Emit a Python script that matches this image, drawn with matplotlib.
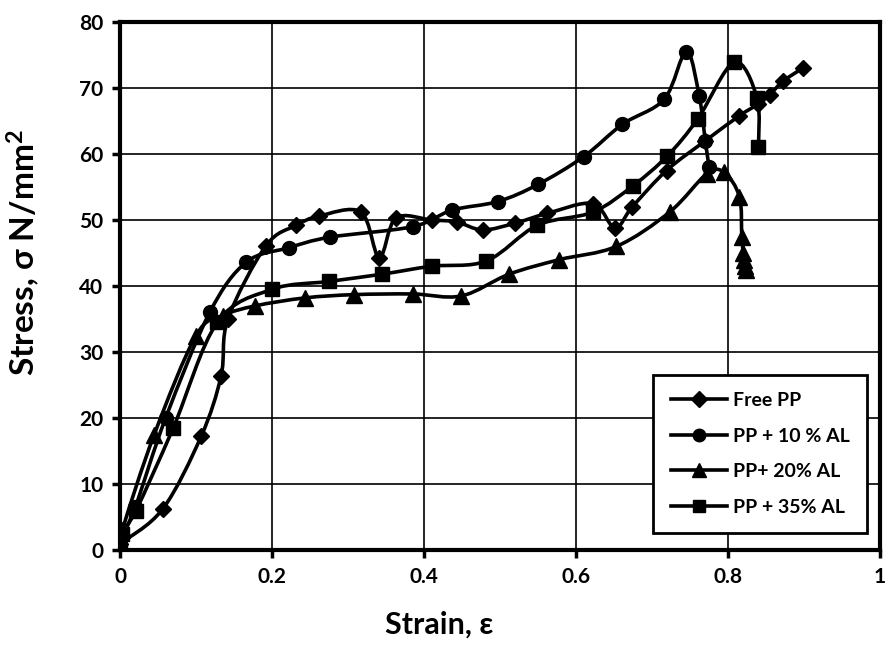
import matplotlib
matplotlib.use("Agg")
import matplotlib.pyplot as plt
from matplotlib.ticker import FuncFormatter
from matplotlib.path import Path
from matplotlib.patches import PathPatch
from matplotlib.lines import Line2D

free_x = [0.0, 0.056, 0.107, 0.133, 0.142, 0.192, 0.232, 0.262, 0.317, 0.341, 0.363,
          0.41, 0.443, 0.477, 0.519, 0.562, 0.622, 0.651, 0.674, 0.719, 0.77, 0.815,
          0.84, 0.855, 0.872, 0.898]
free_y = [1.0, 6.2, 17.3, 26.4, 35.0, 46.1, 49.2, 50.6, 51.2, 44.3, 50.3,
          50.0, 49.7, 48.5, 49.5, 51.0, 52.5, 48.8, 52.0, 57.5, 62.0, 65.8,
          67.6, 69.0, 71.0, 73.0]

al10_x = [0.0, 0.02, 0.06, 0.118, 0.166, 0.222, 0.276, 0.385, 0.437, 0.497, 0.55,
          0.61, 0.661, 0.716, 0.745, 0.762, 0.77, 0.775]
al10_y = [1.5, 6.5, 20.0, 36.0, 43.6, 45.8, 47.4, 49.0, 51.5, 52.8, 55.4,
          59.6, 64.5, 68.3, 75.5, 68.8, 62.0, 58.0]

al20_x = [0.0, 0.003, 0.045, 0.1, 0.135, 0.178, 0.243, 0.308, 0.385, 0.449, 0.512,
          0.578, 0.653, 0.723, 0.772, 0.795, 0.815, 0.818, 0.82, 0.821, 0.822, 0.823]
al20_y = [0.0, 3.0, 17.5, 32.5, 35.5, 37.0, 38.2, 38.7, 38.8, 38.5, 41.8,
          44.0, 46.0, 51.2, 57.0, 57.2, 53.5, 47.5, 45.0, 44.0, 43.0, 42.5]

al35_x = [0.0, 0.002, 0.021, 0.07, 0.128, 0.2, 0.275, 0.345, 0.41, 0.482, 0.549,
          0.622, 0.675, 0.72, 0.76, 0.808, 0.838, 0.84]
al35_y = [0.0, 2.5, 6.0, 18.5, 34.5, 39.5, 40.7, 41.8, 43.0, 43.8, 49.2,
          51.2, 55.2, 59.7, 65.3, 73.9, 68.5, 61.0]

labels = ["Free PP", "PP + 10 % AL", "PP+ 20% AL", "PP + 35% AL"]
x_ticks = [0, 0.2, 0.4, 0.6, 0.8, 1.0]
y_ticks = [0, 10, 20, 30, 40, 50, 60, 70, 80]

plt.rcParams['font.family'] = ['Lato', 'DejaVu Sans']
plt.rcParams['mathtext.fontset'] = 'custom'
plt.rcParams['mathtext.bf'] = 'Lato:bold'
plt.rcParams['mathtext.rm'] = 'Lato'

fig = plt.figure(figsize=(8.89, 6.66), dpi=100)
ax = fig.add_axes([0.135, 0.174, 0.855, 0.793])
ax.set_xlim(0, 1)
ax.set_ylim(0, 80)

lw = 2.6


def smooth_path(xs, ys):
    # Excel-like smoothed line: cubic Bezier segments through the data points
    pts = list(zip(xs, ys))
    n = len(pts)
    verts = [pts[0]]
    codes = [Path.MOVETO]
    for i in range(n - 1):
        p0 = pts[i - 1] if i > 0 else pts[i]
        p1 = pts[i]
        p2 = pts[i + 1]
        p3 = pts[i + 2] if i + 2 < n else pts[i + 1]
        c1 = (p1[0] + (p2[0] - p0[0]) / 6.0, p1[1] + (p2[1] - p0[1]) / 6.0)
        c2 = (p2[0] - (p3[0] - p1[0]) / 6.0, p2[1] - (p3[1] - p1[1]) / 6.0)
        verts += [c1, c2, p2]
        codes += [Path.CURVE4] * 3
    return Path(verts, codes)


series = [(free_x, free_y, 'D', 8.5), (al10_x, al10_y, 'o', 10),
          (al20_x, al20_y, '^', 11), (al35_x, al35_y, 's', 10)]
handles = []
for (xs, ys, m, ms), lab in zip(series, labels):
    patch = PathPatch(smooth_path(xs, ys), fill=False, edgecolor='black', lw=lw,
                      joinstyle='round', capstyle='round', zorder=3)
    ax.add_patch(patch)
    ax.plot(xs, ys, ls='none', marker=m, ms=ms, color='black', zorder=4)
    handles.append(Line2D([], [], color='black', lw=lw, marker=m, ms=ms * 0.9, label=lab))

ax.set_xticks(x_ticks)
ax.set_yticks(y_ticks)
ax.xaxis.set_major_formatter(FuncFormatter(lambda v, p: "0" if v == 0 else ("1" if v == 1 else f"{v:.1f}")))
ax.grid(True, color='black', lw=1.2, zorder=0)
ax.set_axisbelow(True)
for s in ax.spines.values():
    s.set_linewidth(3)
ax.tick_params(axis='both', direction='out', length=6, width=2.5, labelsize=15, pad=6)
for t in ax.get_xticklabels() + ax.get_yticklabels():
    t.set_fontweight('bold')

ax.set_xlabel("Strain, ε", fontsize=22, fontweight='bold')
ax.xaxis.set_label_coords(0.42, -0.114)
ax.set_ylabel("Stress, σ N/mm$\\mathbf{^2}$", fontsize=24, fontweight='bold')
ax.yaxis.set_label_coords(-0.103, 0.564)

leg = ax.legend(handles=handles, loc='lower right', bbox_to_anchor=(0.983, 0.032),
                borderaxespad=0, fancybox=False, edgecolor='black', framealpha=1,
                handlelength=2.9, borderpad=0.9, labelspacing=0.95, handletextpad=0.3,
                prop={'weight': 'bold', 'size': 14})
leg.get_frame().set_linewidth(2)

fig.savefig("out.png", dpi=100)
